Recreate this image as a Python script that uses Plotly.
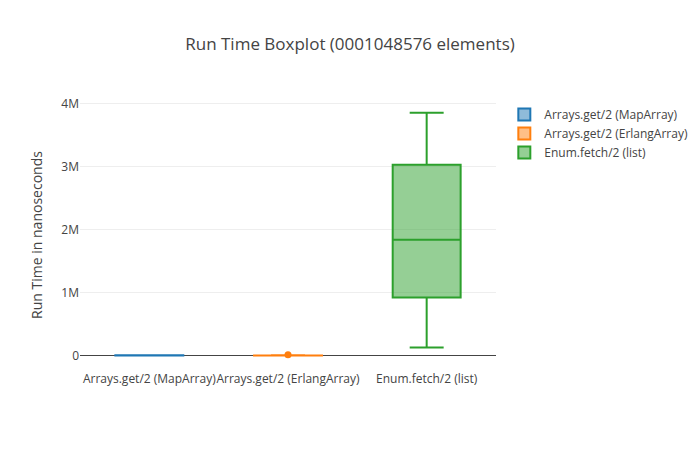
import plotly.graph_objects as go

names = ["Arrays.get/2 (MapArray)", "Arrays.get/2 (ErlangArray)", "Enum.fetch/2 (list)"]
lowerfence = [1500, 900, 127000]
q1 = [2100, 1300, 920000]
median = [2400, 1500, 1840000]
q3 = [2800, 1800, 3030000]
upperfence = [3900, 2500, 3857000]
outlier_name = ["Arrays.get/2 (ErlangArray)"]
outlier_value = [14000]

fig = go.Figure()
for i, n in enumerate(names):
    fig.add_trace(go.Box(
        name=n, x=[n],
        q1=[q1[i]], median=[median[i]], q3=[q3[i]],
        lowerfence=[lowerfence[i]], upperfence=[upperfence[i]],
    ))
fig.add_trace(go.Scatter(
    x=outlier_name, y=outlier_value, mode="markers",
    marker=dict(color="#ff7f0e", size=7), showlegend=False,
))
fig.update_layout(
    template="none",
    width=700, height=450,
    margin=dict(t=100, b=80, l=80, r=204, autoexpand=False),
    title=dict(text="Run Time Boxplot (0001048576 elements)", x=0.5, xref="container",
               y=1 - 44 / 450, yanchor="middle"),
    yaxis=dict(title=dict(text="Run Time in nanoseconds"), automargin=False,
               range=[-230000, 4060000]),
    xaxis=dict(tickangle=0, automargin=False),
    legend=dict(x=1.02, y=1.0),
)
fig.write_html("out.html", config={"displayModeBar": False},
               post_script="document.body.style.margin='0';")
